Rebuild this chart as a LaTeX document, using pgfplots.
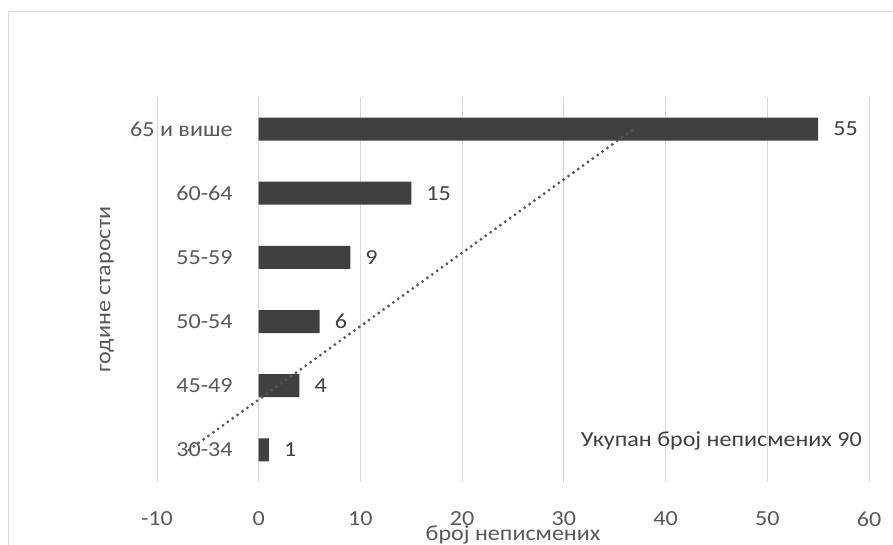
\documentclass[border=0pt]{standalone}
\usepackage{fontspec}
\setmainfont{Carlito}[FakeStretch=1.12]
\usepackage{pgfplots}
\pgfplotsset{compat=1.18}
\definecolor{bargray}{HTML}{404040}
\definecolor{txtgray}{HTML}{595959}
\definecolor{gridgray}{HTML}{D9D9D9}
\definecolor{trendgray}{HTML}{595959}

\begin{document}
\begin{tikzpicture}[x=1pt,y=1pt]
\useasboundingbox (0,0) rectangle (893,545);
% chart area border (top and left only visible)
\draw[gridgray, line width=1pt] (8,0) -- (8,533) -- (893,533);
\begin{axis}[
  at={(157pt,63pt)}, anchor=south west,
  scale only axis,
  width=712pt, height=385pt,
  xbar, bar width=23pt,
  xmin=-10, xmax=60,
  ymin=-0.5, ymax=5.5,
  xtick={-10,0,...,60},
  ytick={0,...,5},
  yticklabels={30-34,45-49,50-54,55-59,60-64,65 и више},
  /pgf/number format/assume math mode=true,
  axis line style={draw=none},
  tick style={draw=none},
  xmajorgrids,
  major grid style={gridgray, line width=1pt},
  font=\fontsize{21.5}{24}\selectfont,
  ticklabel style={font=\fontsize{21.5}{24}\selectfont, text=txtgray},
  xticklabel style={anchor=center, yshift=-37pt},
  yticklabel style={anchor=east, inner sep=0pt, xshift=80pt},
  xlabel={број неписмених},
  xlabel style={at={(axis description cs:0.5,-0.138)}, anchor=center, text=txtgray},
  ylabel={године старости},
  ylabel style={at={(axis description cs:-0.0702,0.5)}, anchor=center, text=txtgray},
  nodes near coords,
  every node near coord/.append style={anchor=west, inner sep=0pt, xshift=15pt,
    text=bargray, font=\fontsize{21.5}{24}\selectfont},
  clip=false,
]
\addplot[fill=bargray, draw=none] coordinates
  {(1,0) (4,1) (6,2) (9,3) (15,4) (55,5)};
% linear trendline
\addplot[xbar=0pt, draw=trendgray, line width=3.2pt, line cap=round,
  dash pattern=on 0pt off 6pt,
  nodes near coords=\empty, forget plot, sharp plot] coordinates
  {(-6.857,0) (36.857,5)};
\node[anchor=east, inner sep=0pt, text=bargray] at (axis cs:59.3,0.14)
  {Укупан број неписмених 90};
\end{axis}
\end{tikzpicture}
\end{document}
